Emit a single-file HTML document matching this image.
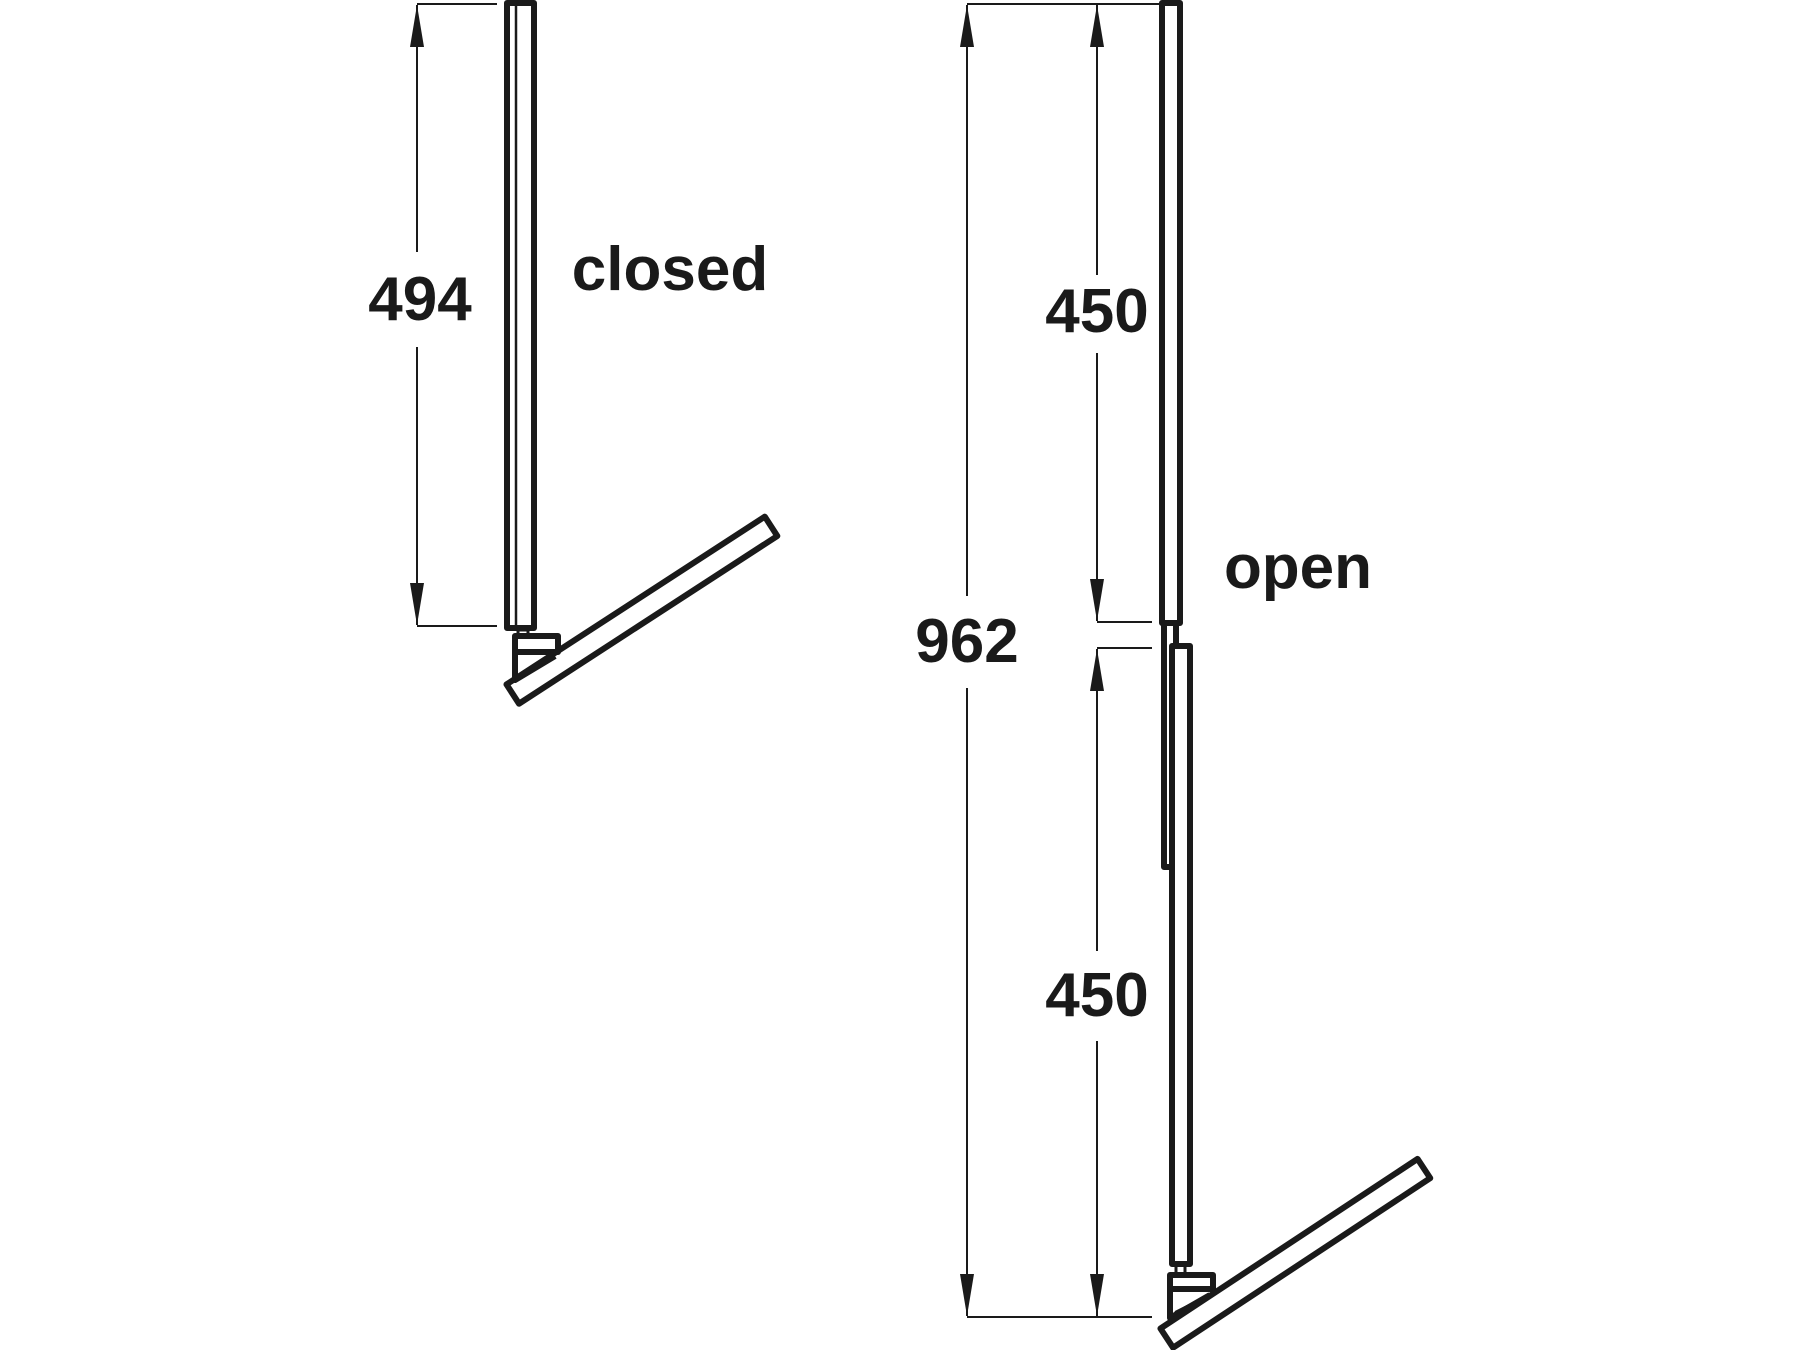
<!DOCTYPE html>
<html><head><style>html,body{margin:0;padding:0;background:#fff;}svg{display:block}</style></head>
<body>
<svg width="1800" height="1350" viewBox="0 0 1800 1350" xmlns="http://www.w3.org/2000/svg">
<defs>
<marker id="a" viewBox="0 0 42 14" refX="42" refY="7" markerWidth="42" markerHeight="14" markerUnits="userSpaceOnUse" orient="auto">
<path d="M0,0 L42,7 L0,14 Z" fill="#1a1a1a"/></marker>
</defs>
<g stroke="#1a1a1a" stroke-width="2" fill="none">
<line x1="417" y1="4" x2="497" y2="4"/>
<line x1="417" y1="626" x2="497" y2="626"/>
<line x1="417" y1="252" x2="417" y2="5" marker-end="url(#a)"/>
<line x1="417" y1="347" x2="417" y2="625" marker-end="url(#a)"/>
<line x1="967" y1="4" x2="1160" y2="4"/>
<line x1="967" y1="1317" x2="1152" y2="1317"/>
<line x1="1097" y1="622" x2="1152" y2="622"/>
<line x1="1097" y1="648" x2="1152" y2="648"/>
<line x1="967" y1="596" x2="967" y2="5" marker-end="url(#a)"/>
<line x1="967" y1="688" x2="967" y2="1316" marker-end="url(#a)"/>
<line x1="1097" y1="275" x2="1097" y2="5" marker-end="url(#a)"/>
<line x1="1097" y1="353" x2="1097" y2="621" marker-end="url(#a)"/>
<line x1="1097" y1="951" x2="1097" y2="649" marker-end="url(#a)"/>
<line x1="1097" y1="1041" x2="1097" y2="1316" marker-end="url(#a)"/>
</g>
<g stroke="#1a1a1a" stroke-width="6" fill="none" stroke-linejoin="round">
<rect x="507" y="3" width="27" height="625"/>
<line x1="516" y1="5" x2="516" y2="626" stroke-width="2.5"/>
<rect x="518" y="630" width="10" height="6" stroke-width="3"/>
<rect x="515" y="636" width="43" height="16"/>
<path d="M515,652 L515,680 L555,656"/>
<line x1="520" y1="676" x2="550" y2="660" stroke-width="2"/>
<g transform="translate(515,692) rotate(-33)"><rect x="-3" y="-11" width="308" height="23"/></g>
<rect x="1162" y="3" width="18" height="620"/>
<path d="M1164,623 L1164,867 L1172,867 L1172,648"/>
<line x1="1176" y1="623" x2="1176" y2="645"/>
<rect x="1172" y="646" width="18" height="618"/>
<rect x="1176" y="1265" width="9" height="10" stroke-width="3"/>
<rect x="1170" y="1275" width="43" height="14"/>
<path d="M1170,1289 L1170,1318 L1210,1295"/>
<line x1="1175" y1="1312" x2="1205" y2="1297" stroke-width="2"/>
<g transform="translate(1169,1336) rotate(-33.4)"><rect x="-3" y="-11" width="308" height="23"/></g>
</g>
<g font-family="Liberation Sans, sans-serif" font-weight="bold" font-size="62" fill="#1a1a1a" text-anchor="middle">
<text x="420" y="320">494</text>
<text x="967" y="662">962</text>
<text x="1097" y="332">450</text>
<text x="1097" y="1016">450</text>
<text x="670" y="290">closed</text>
<text x="1298" y="588">open</text>
</g>
</svg>
</body></html>
